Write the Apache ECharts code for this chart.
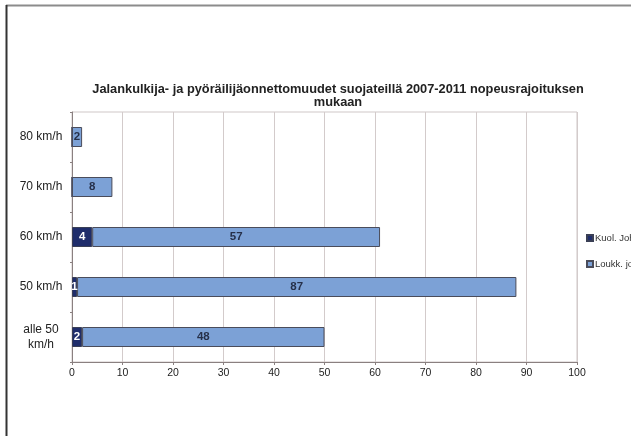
<!DOCTYPE html>
<html>
<head>
<meta charset="utf-8">
<script src="https://cdn.jsdelivr.net/npm/echarts@6/dist/echarts.min.js"></script>
<style>
  html, body { margin: 0; padding: 0; background: #fff; }
  #chart { width: 631px; height: 436px; }
</style>
</head>
<body>
<div id="chart"></div>
<script>
// Speed-limit categories, listed bottom to top on the vertical axis
const categories = ['alle 50\nkm/h', '50 km/h', '60 km/h', '70 km/h', '80 km/h'];
// Fatal accidents per category
const fatal = [2, 1, 4, 0, 0];
// Injury accidents per category
const injury = [48, 87, 57, 8, 2];
const seriesNames = ['Kuol. Johtaneet', 'Loukk. johtaneet'];
const xTicks = [0, 10, 20, 30, 40, 50, 60, 70, 80, 90, 100];

const chart = echarts.init(document.getElementById('chart'), null, { renderer: 'canvas' });

const fontFamily = 'Liberation Sans, Arial, sans-serif';

function labelFor(color) {
  return {
    show: true,
    position: 'inside',
    fontFamily: fontFamily,
    fontSize: 11.5,
    fontWeight: 'bold',
    color: color,
    formatter: p => (p.value ? String(p.value) : '')
  };
}

chart.setOption({
  animation: false,
  title: {
    text: 'Jalankulkija- ja pyöräilijäonnettomuudet suojateillä 2007-2011 nopeusrajoituksen\nmukaan',
    left: 333,
    top: 78,
    textAlign: 'center',
    textStyle: {
      fontFamily: fontFamily,
      fontSize: 12.8,
      fontWeight: 'bold',
      color: '#222',
      lineHeight: 13
    }
  },
  legend: {
    orient: 'vertical',
    left: 581,
    top: 228,
    itemWidth: 6,
    itemHeight: 6,
    itemGap: 16,
    icon: 'rect',
    textStyle: { fontFamily: fontFamily, fontSize: 9.5, color: '#333', padding: [0, 0, 0, -3] },
    data: seriesNames
  },
  grid: {
    left: 72,
    right: 54,
    top: 112,
    bottom: 74,
    show: true,
    borderColor: '#cfc7c7',
    borderWidth: 1,
    containLabel: false
  },
  xAxis: {
    type: 'value',
    min: xTicks[0],
    max: xTicks[xTicks.length - 1],
    interval: 10,
    axisLine: { show: true, lineStyle: { color: '#8a8080', width: 1 } },
    axisTick: { show: true, length: 3, lineStyle: { color: '#8a8080' } },
    splitLine: { show: true, lineStyle: { color: '#d3cbcb', width: 1 } },
    axisLabel: { fontFamily: fontFamily, fontSize: 10.5, color: '#222', margin: 6 }
  },
  yAxis: {
    type: 'category',
    data: categories,
    axisLine: { show: true, lineStyle: { color: '#8a8080', width: 1 } },
    axisTick: { show: true, length: 2, lineStyle: { color: '#8a8080' } },
    axisLabel: {
      fontFamily: fontFamily,
      fontSize: 12,
      color: '#222',
      margin: 31,
      lineHeight: 15,
      align: 'center'
    }
  },
  series: [
    {
      name: seriesNames[0],
      type: 'bar',
      stack: 'total',
      barWidth: 20,
      data: fatal,
      itemStyle: { color: '#1f2d6b', borderColor: '#3a3f55', borderWidth: 1 },
      label: labelFor('#ffffff')
    },
    {
      name: seriesNames[1],
      type: 'bar',
      stack: 'total',
      barWidth: 20,
      data: injury,
      itemStyle: { color: '#7ca1d6', borderColor: '#4a4c5a', borderWidth: 1 },
      label: labelFor('#26304a')
    }
  ],
  graphic: [
    {
      type: 'line',
      shape: { x1: 6, y1: 5.5, x2: 631, y2: 5.5 },
      style: { stroke: '#8c8c8c', lineWidth: 2 }
    },
    {
      type: 'line',
      shape: { x1: 6.5, y1: 5, x2: 6.5, y2: 436 },
      style: { stroke: '#333333', lineWidth: 2 }
    }
  ]
});
</script>
</body>
</html>
